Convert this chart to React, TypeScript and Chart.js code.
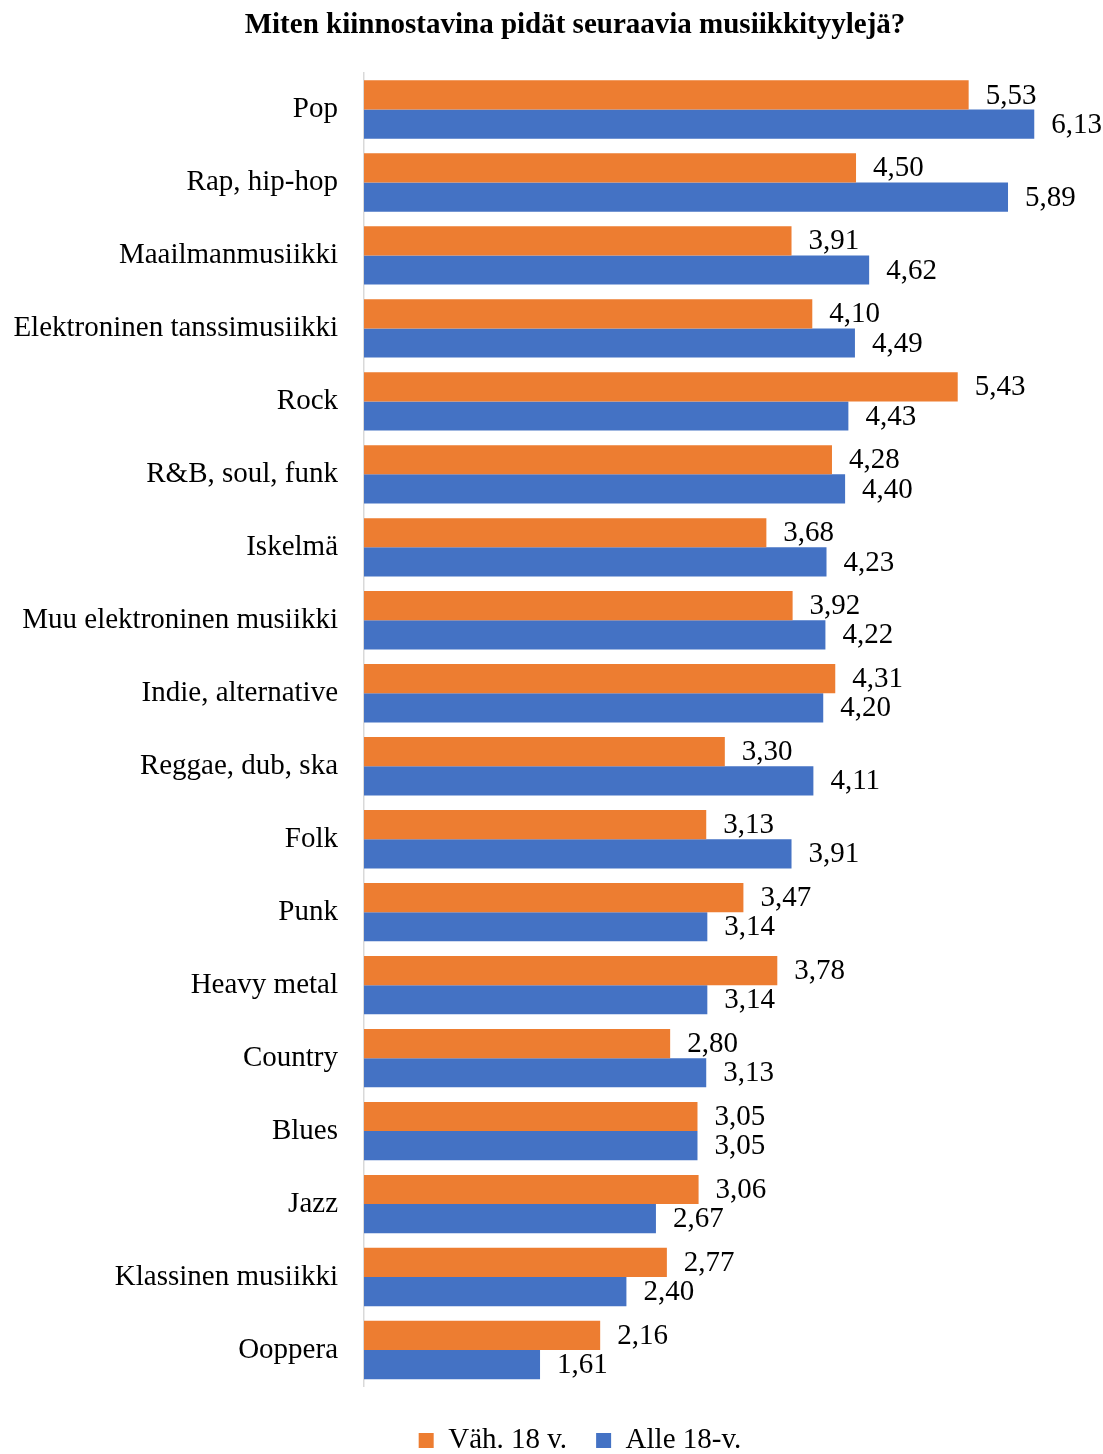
import React, { useEffect, useRef } from "react";
import { Chart, registerables } from "chart.js";

Chart.register(...registerables);

const title = "Miten kiinnostavina pidät seuraavia musiikkityylejä?";
const categories = [
  "Pop",
  "Rap, hip-hop",
  "Maailmanmusiikki",
  "Elektroninen tanssimusiikki",
  "Rock",
  "R&B, soul, funk",
  "Iskelmä",
  "Muu elektroninen musiikki",
  "Indie, alternative",
  "Reggae, dub, ska",
  "Folk",
  "Punk",
  "Heavy metal",
  "Country",
  "Blues",
  "Jazz",
  "Klassinen musiikki",
  "Ooppera",
];
const seriesNames = ["Väh. 18 v.", "Alle 18-v."];
const adultValues = [5.53, 4.5, 3.91, 4.1, 5.43, 4.28, 3.68, 3.92, 4.31, 3.3, 3.13, 3.47, 3.78, 2.8, 3.05, 3.06, 2.77, 2.16];
const youthValues = [6.13, 5.89, 4.62, 4.49, 4.43, 4.4, 4.23, 4.22, 4.2, 4.11, 3.91, 3.14, 3.14, 3.13, 3.05, 2.67, 2.4, 1.61];

const FONT = "'Liberation Serif', 'Times New Roman', serif";

const titlePlugin = {
  id: "customTitle",
  afterDraw(chart: any) {
    const ctx = chart.ctx;
    ctx.save();
    ctx.font = `bold 29px ${FONT}`;
    ctx.fillStyle = "#000";
    ctx.textAlign = "center";
    ctx.textBaseline = "middle";
    ctx.fillText(title, 575, 26);
    ctx.restore();
  },
};

const valueLabelPlugin = {
  id: "valueLabels",
  afterDatasetsDraw(chart: any) {
    const ctx = chart.ctx;
    ctx.save();
    ctx.font = `29px ${FONT}`;
    ctx.fillStyle = "#000";
    ctx.textAlign = "left";
    ctx.textBaseline = "middle";
    chart.data.datasets.forEach((ds: any, di: number) => {
      const meta = chart.getDatasetMeta(di);
      meta.data.forEach((bar: any, i: number) => {
        const v = ds.data[i] as number;
        ctx.fillText(v.toFixed(2).replace(".", ","), bar.x + 17, bar.y + 1);
      });
    });
    ctx.restore();
  },
};

export default function App() {
  const canvasRef = useRef<HTMLCanvasElement | null>(null);

  useEffect(() => {
    if (!canvasRef.current) return;
    const chart = new Chart(canvasRef.current, {
      type: "bar",
      data: {
        labels: categories,
        datasets: [
          {
            label: seriesNames[0],
            data: adultValues,
            backgroundColor: "#ED7D31",
            categoryPercentage: 0.8,
            barPercentage: 1,
          },
          {
            label: seriesNames[1],
            data: youthValues,
            backgroundColor: "#4472C4",
            categoryPercentage: 0.8,
            barPercentage: 1,
          },
        ],
      },
      options: {
        indexAxis: "y",
        animation: false,
        responsive: true,
        maintainAspectRatio: false,
        layout: { padding: { top: 73, left: 0, right: 0, bottom: 0 } },
        scales: {
          x: { display: false, min: 0, max: 7.28 },
          y: {
            afterFit: (scale: any) => {
              scale.width = 364;
            },
            grid: { display: false, drawTicks: false },
            border: { display: true, color: "#d9d9d9", width: 1.5 },
            ticks: {
              padding: 26,
              color: "#000",
              font: { family: FONT, size: 29 },
            },
          },
        },
        plugins: {
          title: { display: false },
          tooltip: { enabled: false },
          legend: {
            display: true,
            position: "bottom",
            title: {
              display: true,
              text: "",
              font: { size: 1, lineHeight: 1 },
              padding: { top: 9.5, bottom: 0 },
            },
            labels: {
              boxWidth: 15,
              boxHeight: 15,
              padding: 29,
              color: "#000",
              font: { family: FONT, size: 29 },
            },
          },
        },
      },
      plugins: [titlePlugin, valueLabelPlugin],
    });
    return () => chart.destroy();
  }, []);

  return (
    <div
      style={{
        position: "fixed",
        left: 0,
        top: 0,
        width: 1103,
        height: 1454,
        overflow: "hidden",
        background: "#fff",
      }}
    >
      <div style={{ position: "relative", width: 1160, height: 1465 }}>
        <canvas ref={canvasRef} />
      </div>
    </div>
  );
}
